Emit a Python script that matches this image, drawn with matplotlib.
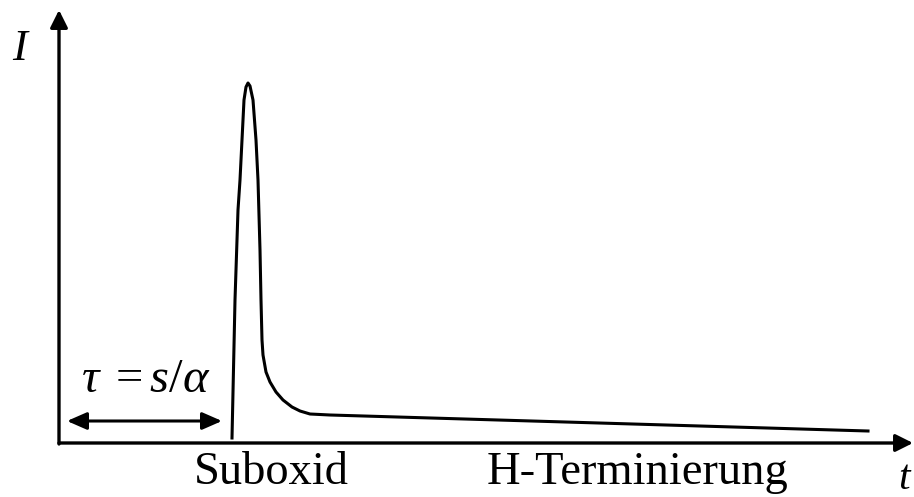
import matplotlib.pyplot as plt

plt.rcParams['font.family'] = 'Liberation Serif'
plt.rcParams['mathtext.fontset'] = 'custom'
plt.rcParams['mathtext.rm'] = 'Liberation Serif'
plt.rcParams['mathtext.it'] = 'Liberation Serif:italic'

# current transient: time and intensity in arbitrary units
t = [173, 176, 179, 181, 183, 185, 187, 189, 191, 194, 197, 199, 201,
     202, 203, 204, 207, 211, 217, 224, 233, 241, 251, 271, 809]
I = [5, 143, 233, 263, 303, 343, 356, 360, 357, 343, 303, 263, 193,
     143, 103, 88, 71, 61, 51, 43, 36, 32, 29, 28, 12]

t_delay = (8, 163)     # span of the delay arrow
delay_level = 22
t_max = 854
I_max = 433

fig = plt.figure(figsize=(9.14, 4.97), dpi=100)
ax = fig.add_axes([0, 0, 1, 1])
ax.set_xlim(-59, 855)
ax.set_ylim(-54, 443)
ax.axis('off')

head = '-|>,head_length=0.7,head_width=0.35'
ax.annotate('', xy=(t_max, 0), xytext=(0, 0),
            arrowprops=dict(arrowstyle=head, lw=2.4, color='black',
                            mutation_scale=15, shrinkA=0, shrinkB=0))
ax.annotate('', xy=(0, I_max), xytext=(0, -1),
            arrowprops=dict(arrowstyle=head, lw=2.4, color='black',
                            mutation_scale=15, shrinkA=0, shrinkB=0))

ax.plot(t, I, color='black', lw=2.2, solid_joinstyle='round')

ax.annotate('', xy=(t_delay[1], delay_level), xytext=(t_delay[0], delay_level),
            arrowprops=dict(arrowstyle='<|-|>,head_length=0.8,head_width=0.35',
                            lw=2.2, color='black', mutation_scale=15,
                            shrinkA=0, shrinkB=0))
ax.text(87, 63, r'$\tau\;{=}s/\alpha$', fontsize=35, ha='center', va='center')

ax.text(-39, 394, 'I', fontsize=32, style='italic', ha='center', va='center')
ax.text(845, -36, 't', fontsize=30, style='italic', ha='center', va='center')
ax.text(212, -30, 'Suboxid', fontsize=33.5, ha='center', va='center')
ax.text(578, -30, 'H-Terminierung', fontsize=33.5, ha='center', va='center')

fig.savefig('out.png', dpi=100)
